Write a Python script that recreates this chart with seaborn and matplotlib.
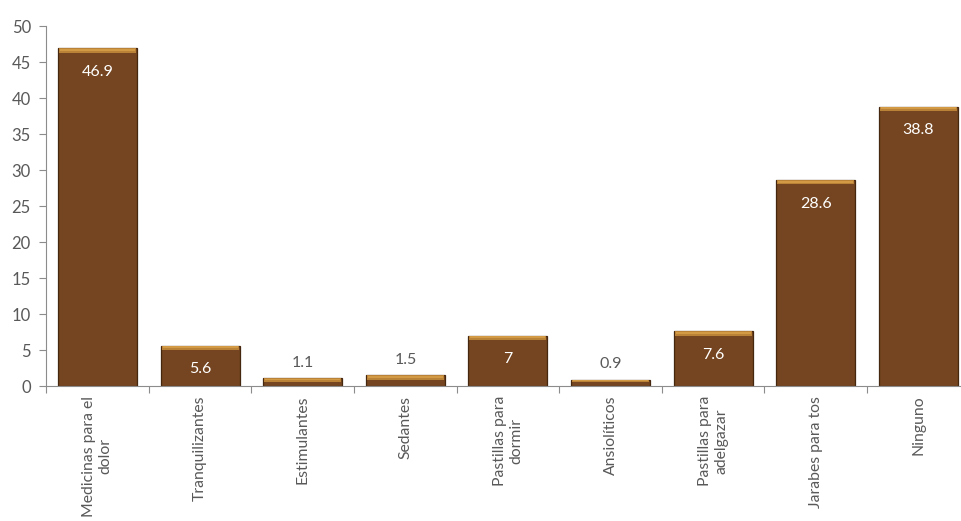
import matplotlib

matplotlib.use("Agg", force=True)
import matplotlib.pyplot as plt
import pandas as pd
import seaborn as sns

categories = [
    "Medicinas para el\ndolor",
    "Tranquilizantes",
    "Estimulantes",
    "Sedantes",
    "Pastillas para\ndormir",
    "Ansiolíticos",
    "Pastillas para\nadelgazar",
    "Jarabes para tos",
    "Ninguno",
]
values = [46.9, 5.6, 1.1, 1.5, 7, 0.9, 7.6, 28.6, 38.8]
value_labels = ["46.9", "5.6", "1.1", "1.5", "7", "0.9", "7.6", "28.6", "38.8"]
y_ticks = [0, 5, 10, 15, 20, 25, 30, 35, 40, 45, 50]

df = pd.DataFrame({"categoria": categories, "valor": values})

sns.set_style("white")
plt.rcParams["font.family"] = ["Lato", "DejaVu Sans"]
text_color = "#595959"
bar_color = "#744520"
top_color = "#b98237"
top_light = "#d29a45"

fig = plt.figure(figsize=(9.62, 5.21), dpi=100)
ax = fig.add_axes([0.048, 0.259, 0.96, 0.691])

sns.barplot(data=df, x="categoria", y="valor", color=bar_color, width=0.77,
            saturation=1, edgecolor="#45260e", linewidth=0.9, ax=ax)

# gold bevel along the top of each bar
for p in ax.patches:
    x0, w, h = p.get_x(), p.get_width(), p.get_height()
    bev = min(0.6, h * 0.45)
    ax.fill_between([x0 + 0.01, x0 + w - 0.01], h - bev, h,
                    color=top_color, linewidth=0, zorder=3)
    ax.fill_between([x0 + 0.02, x0 + w - 0.02], h - bev * 0.55, h - bev * 0.15,
                    color=top_light, linewidth=0, zorder=3)

# value labels: inside for taller bars, above for short ones
for p, v, lab in zip(ax.patches, values, value_labels):
    cx = p.get_x() + p.get_width() / 2
    if v >= 3:
        ax.annotate(lab, (cx, v), xytext=(0, -17), textcoords="offset points",
                    ha="center", va="center", color="white", fontsize=11.5, zorder=4)
    else:
        ax.annotate(lab, (cx, v), xytext=(0, 11), textcoords="offset points",
                    ha="center", va="center", color=text_color, fontsize=11.5, zorder=4)

ax.set_ylim(0, 50)
ax.set_xlim(-0.5, len(categories) - 0.5)
ax.set_yticks(y_ticks)
ax.set_xlabel("")
ax.set_ylabel("")

for side in ("top", "right"):
    ax.spines[side].set_visible(False)
for side in ("left", "bottom"):
    ax.spines[side].set_color("#8c8c8c")
    ax.spines[side].set_linewidth(0.8)

ax.tick_params(axis="y", which="major", left=True, length=5, width=0.8,
               color="#8c8c8c", labelcolor=text_color, labelsize=12, pad=6)

# category names drawn as centred, rotated multi-line text
ax.set_xticks(range(len(categories)))
ax.set_xticklabels([])
ax.tick_params(axis="x", which="major", bottom=False)
for i, name in enumerate(categories):
    ax.annotate(name, (i, 0), xycoords=("data", "axes fraction"),
                xytext=(0, -7), textcoords="offset points",
                rotation=90, ha="center", va="top", multialignment="center",
                color=text_color, fontsize=11.3)

# category separator ticks
ax.set_xticks([i - 0.5 for i in range(len(categories) + 1)], minor=True)
ax.tick_params(axis="x", which="minor", bottom=True, length=5, width=0.8,
               color="#8c8c8c")

fig.savefig("out.png", dpi=100, facecolor="white")
